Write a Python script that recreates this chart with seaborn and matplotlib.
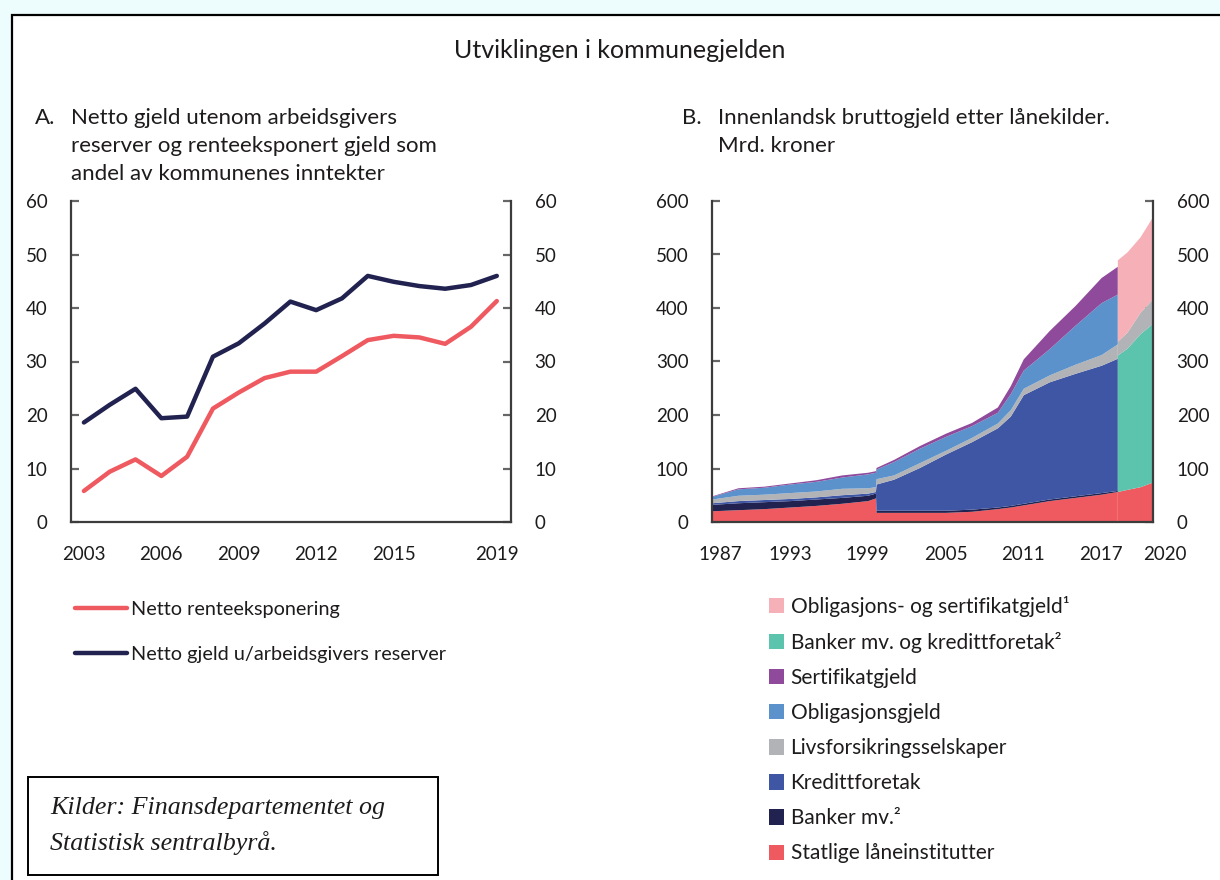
import numpy as np
import pandas as pd
import matplotlib
matplotlib.use('Agg')
import matplotlib.pyplot as plt
import matplotlib.transforms as mtransforms
from matplotlib.patches import Rectangle, Patch
from matplotlib.lines import Line2D
import seaborn as sns

# ---- Panel A: andel av kommunenes inntekter (prosent) ----
aar_a = [2003, 2004, 2005, 2006, 2007, 2008, 2009, 2010, 2011,
         2012, 2013, 2014, 2015, 2016, 2017, 2018, 2019]
renteeksponering = [5.8, 9.4, 11.7, 8.6, 12.2, 21.2, 24.2, 26.9, 28.1,
                    28.1, 31.0, 34.0, 34.8, 34.5, 33.3, 36.5, 41.3]
netto_gjeld = [18.6, 21.9, 24.9, 19.4, 19.7, 30.9, 33.4, 37.1, 41.2,
               39.6, 41.8, 46.0, 44.9, 44.1, 43.6, 44.3, 46.0]

# ---- Panel B: bruttogjeld etter lånekilder, mrd. kroner ----
# gammel inndeling (til 2018)
aar_b1 = [1987, 1989, 1991, 1993, 1995, 1997, 1999, 1999.6, 1999.65, 2001,
          2003, 2005, 2007, 2009, 2010, 2011, 2013, 2015, 2017, 2018.25]
statlige = [21, 23, 25, 28, 31, 35, 40, 45, 18, 18, 18, 18, 20, 25, 28, 32, 40, 46, 52, 57]
banker = [12, 13, 13, 12, 12, 11, 10, 9, 4, 4, 4, 4, 4, 3, 3, 3, 3, 3, 3, 2]
kredittforetak = [3, 4, 4, 4, 4, 5, 4, 3, 49, 58, 80, 105, 126, 148, 167, 203, 219, 229, 238, 247]
livsforsikring = [7, 10, 10, 11, 11, 12, 10, 9, 10, 8, 9, 7, 8, 9, 12, 12, 13, 17, 20, 27]
obligasjoner = [5, 12, 13, 16, 18, 21, 26, 27, 18, 25, 27, 26, 22, 20, 30, 34, 49, 73, 97, 93]
sertifikater = [1, 2, 2, 2, 3, 4, 3, 3, 3, 4, 5, 6, 6, 10, 15, 21, 34, 37, 47, 52]

# ny inndeling (fra 2018)
aar_b2 = [2018.25, 2019, 2020, 2021]
statlige2 = [57, 61, 66, 75]
banker_kreditt = [255, 264, 286, 297]
livsforsikring2 = [26, 30, 40, 46]
obl_sert = [152, 150, 141, 154]

legend_b = ['Obligasjons- og sertifikatgjeld\u00b9', 'Banker mv. og kredittforetak\u00b2',
            'Sertifikatgjeld', 'Obligasjonsgjeld', 'Livsforsikringsselskaper',
            'Kredittforetak', 'Banker mv.\u00b2', 'Statlige låneinstitutter']

# farger
RED = '#ef5a60'
NAVY = '#21224f'
KBLUE = '#3f56a4'
GREY = '#b1b3b7'
LBLUE = '#5b92cb'
PURPLE = '#8f4a9b'
TEAL = '#5cc3ad'
PINK = '#f6b0b7'
SPINE = '#3c3c3c'

sns.set_theme(style='white')
plt.rcParams['font.family'] = ['Lato', 'DejaVu Sans']
plt.rcParams['text.color'] = '#1e1b1c'
plt.rcParams['xtick.color'] = '#1e1b1c'
plt.rcParams['ytick.labelcolor'] = '#1e1b1c'

W, H = 1220, 880
fig = plt.figure(figsize=(12.2, 8.8), dpi=100, facecolor='#edfcfd')

def fx(px):
    return px / W

def fy(py):
    return 1 - py / H

# hvit ramme
fig.patches.append(Rectangle((fx(12), -0.05), 1.2, fy(15) + 0.05, transform=fig.transFigure,
                             facecolor='white', edgecolor='black', linewidth=1.6, zorder=-10))

fig.text(fx(620), fy(50), 'Utviklingen i kommunegjelden', ha='center', va='center', fontsize=18)

fs_sub = 16
fig.text(fx(35), fy(118), 'A.', ha='left', va='center', fontsize=fs_sub)
for i, t in enumerate(['Netto gjeld utenom arbeidsgivers',
                       'reserver og renteeksponert gjeld som',
                       'andel av kommunenes inntekter']):
    fig.text(fx(71), fy(118 + 28 * i), t, ha='left', va='center', fontsize=fs_sub)
fig.text(fx(682), fy(118), 'B.', ha='left', va='center', fontsize=fs_sub)
for i, t in enumerate(['Innenlandsk bruttogjeld etter lånekilder.', 'Mrd. kroner']):
    fig.text(fx(718), fy(118 + 28 * i), t, ha='left', va='center', fontsize=fs_sub)

ax_a = fig.add_axes([fx(71), fy(522), fx(511) - fx(71), fy(201) - fy(522)])
ax_b = fig.add_axes([fx(712), fy(522), fx(1153) - fx(712), fy(201) - fy(522)])


def style_axis(ax, ymax, step):
    ax.set_facecolor('none')
    ax.set_ylim(0, ymax)
    ax.set_yticks(np.arange(0, ymax + 1, step))
    for s in ['left', 'right', 'bottom']:
        ax.spines[s].set_visible(True)
        ax.spines[s].set_color(SPINE)
        ax.spines[s].set_linewidth(1.6)
    ax.spines['top'].set_visible(False)
    ax.tick_params(axis='y', which='both', direction='in', length=6, width=1.6, color='#666666',
                   left=True, right=True, labelleft=True, labelright=True, labelsize=13.5, pad=17)
    ax.tick_params(axis='x', length=0, labelsize=13.5, pad=17)
    ax.set_xlabel('')
    ax.set_ylabel('')
    ax.grid(False)


# ---- Panel A ----
df_a = pd.DataFrame({
    'aar': aar_a * 2,
    'verdi': renteeksponering + netto_gjeld,
    'serie': ['Netto renteeksponering'] * len(aar_a) + ['Netto gjeld u/arbeidsgivers reserver'] * len(aar_a),
})
sns.lineplot(data=df_a, x='aar', y='verdi', hue='serie', ax=ax_a, linewidth=3.2,
             palette={'Netto renteeksponering': RED, 'Netto gjeld u/arbeidsgivers reserver': NAVY},
             legend=False)
ax_a.set_xlim(2002.5, 2019.55)
ax_a.set_xticks([2003, 2006, 2009, 2012, 2015, 2019])
style_axis(ax_a, 60, 10)

handles_a = [Line2D([], [], color=RED, linewidth=3.2), Line2D([], [], color=NAVY, linewidth=3.2)]
fig.legend(handles_a, ['Netto renteeksponering', 'Netto gjeld u/arbeidsgivers reserver'],
           loc='upper left', bbox_to_anchor=(fx(57), fy(583)), frameon=False, fontsize=14.3,
           handlelength=2.6, handletextpad=0.25, labelspacing=1.42)

# ---- Panel B ----
ax_b.stackplot(aar_b1, statlige, banker, kredittforetak, livsforsikring, obligasjoner, sertifikater,
               colors=[RED, NAVY, KBLUE, GREY, LBLUE, PURPLE], linewidth=0)
ax_b.stackplot(aar_b2, statlige2, banker_kreditt, livsforsikring2, obl_sert,
               colors=[RED, TEAL, GREY, PINK], linewidth=0)
ax_b.set_xlim(1987, 2021)
ax_b.set_xticks([1987, 1993, 1999, 2005, 2011, 2017, 2021])
ax_b.set_xticklabels(['1987', '1993', '1999', '2005', '2011', '2017', '2020'])
style_axis(ax_b, 600, 100)
shift = mtransforms.ScaledTranslation(0.12, 0, fig.dpi_scale_trans)
last = ax_b.get_xticklabels()[-1]
last.set_transform(last.get_transform() + shift)
first = ax_b.get_xticklabels()[0]
first.set_transform(first.get_transform() + mtransforms.ScaledTranslation(0.08, 0, fig.dpi_scale_trans))

handles_b = [Patch(facecolor=c, edgecolor='none')
             for c in [PINK, TEAL, PURPLE, LBLUE, GREY, KBLUE, NAVY, RED]]
fig.legend(handles_b, legend_b, loc='upper left', bbox_to_anchor=(fx(750), fy(577)),
           frameon=False, fontsize=15, handlelength=0.75, handleheight=0.75,
           handletextpad=0.3, labelspacing=0.725)

# ---- kildeboks ----
fig.patches.append(Rectangle((fx(28), fy(875)), fx(438) - fx(28), fy(777) - fy(875),
                             transform=fig.transFigure, facecolor='white', edgecolor='black',
                             linewidth=1.4))
fig.text(fx(50), fy(808), 'Kilder: Finansdepartementet og', ha='left', va='center',
         fontsize=18.7, style='italic', family=['Liberation Serif', 'DejaVu Serif'])
fig.text(fx(50), fy(843), 'Statistisk sentralbyrå.', ha='left', va='center',
         fontsize=18.7, style='italic', family=['Liberation Serif', 'DejaVu Serif'])

fig.savefig('out.png', dpi=100, facecolor=fig.get_facecolor())
